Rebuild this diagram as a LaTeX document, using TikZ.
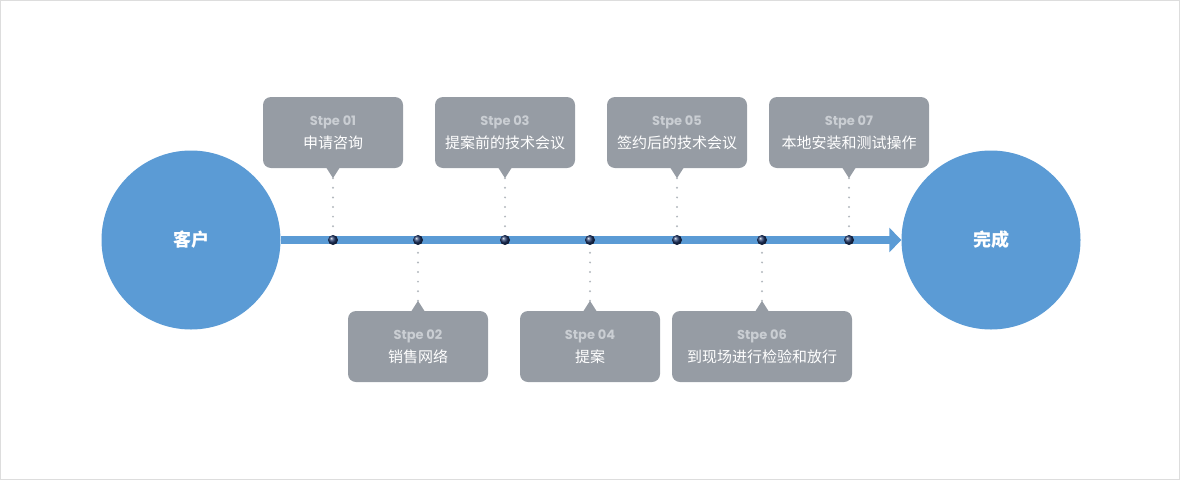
\documentclass[tikz,border=0pt]{standalone}
\usepackage{fontspec}
\usepackage{xcolor}
\usepackage{tikz}
\usetikzlibrary{arrows.meta, positioning, calc}
\newfontfamily\cjk{Noto Sans CJK SC}
\newfontfamily\stepfont{Poppins}
\definecolor{flowblue}{HTML}{5B9BD5}
\definecolor{boxgray}{HTML}{969CA4}
\definecolor{stepgray}{HTML}{CACED3}
\definecolor{dotnavy}{HTML}{1F3566}
\definecolor{leadgray}{HTML}{B3B8BE}
\definecolor{framegray}{HTML}{DDDDDD}

\tikzset{
  endcircle/.style={circle, fill=flowblue, minimum size=179pt, inner sep=0pt,
    text=white, font=\cjk\bfseries\fontsize{18}{20}\selectfont},
  stepbox/.style={fill=boxgray, rounded corners=8pt, minimum height=71pt,
    inner sep=0pt, align=center, text=white, font=\cjk\fontsize{15}{23}\selectfont},
  stepdot/.style={circle, inner sep=0pt, minimum size=10pt, ball color=dotnavy},
  leader/.style={draw=leadgray, line width=2.2pt, line cap=round,
    dash pattern=on 0pt off 9.6pt},
}

\begin{document}
\begin{tikzpicture}[x=1pt, y=-1pt]
  \useasboundingbox (0,0) rectangle (1180,480);
  \draw[framegray, line width=1pt] (0.5,0.5) rectangle (1179.5,479.5);

  % start and end of the flow
  \node[endcircle] (client) at (191,240) {客户};
  \node[endcircle] (done) at (991,240) {完成};
  \draw[flowblue, line width=8pt, -{Triangle[length=12pt, width=24pt]}]
    (client.east) -- (done.west);

  % steps, odd ones above the line, even ones below
  \foreach \n/\x/\w/\label in {1/333/140/申请咨询, 2/418/140/销售网络,
      3/505/140/提案前的技术会议, 4/590/140/提案, 5/677/140/签约后的技术会议,
      6/762/180/到现场进行检验和放行, 7/849/160/本地安装和测试操作} {
    \node[stepdot] (d\n) at (\x,240) {};
    \ifodd\n\relax
      \node[stepbox, minimum width=\w pt] (s\n) at (\x,132.5)
        {{\stepfont\bfseries\fontsize{13}{15}\selectfont\textcolor{stepgray}{Stpe 0\n}}\\ \label};
      \fill[boxgray] ([xshift=-7pt, yshift=1pt]s\n.south) -- ([xshift=7pt, yshift=1pt]s\n.south)
        -- ([yshift=-10pt]s\n.south) coordinate (t\n) -- cycle;
    \else
      \node[stepbox, minimum width=\w pt] (s\n) at (\x,346.5)
        {{\stepfont\bfseries\fontsize{13}{15}\selectfont\textcolor{stepgray}{Stpe 0\n}}\\ \label};
      \fill[boxgray] ([xshift=-7pt, yshift=-1pt]s\n.north) -- ([xshift=7pt, yshift=-1pt]s\n.north)
        -- ([yshift=10pt]s\n.north) coordinate (t\n) -- cycle;
    \fi
    \draw[leader] (t\n) -- (d\n);
  }
\end{tikzpicture}
\end{document}
